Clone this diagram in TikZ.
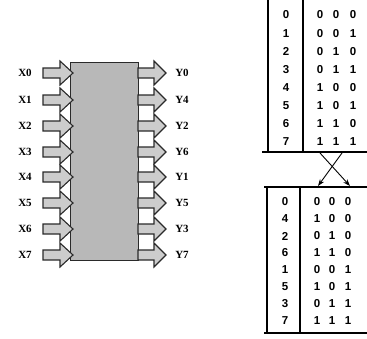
\documentclass[tikz,border=0pt]{standalone}
\usepackage{fontspec}
\setmainfont{Liberation Serif}
\newfontfamily\digfont{Liberation Sans}
\usetikzlibrary{arrows.meta}
\definecolor{chipgray}{HTML}{B8B8B8}
\definecolor{arrgray}{HTML}{CCCCCC}
\definecolor{edge}{HTML}{2A2A2A}
\tikzset{
  lbl/.style={font=\fontsize{11}{11}\selectfont\bfseries, inner sep=0pt},
  dig/.style={font=\digfont\fontsize{11.5}{11.5}\selectfont\bfseries, inner sep=0pt},
  blockarrow/.style={fill=arrgray, draw=edge, line width=1.1pt, line join=miter},
  rule/.style={draw=black, line width=1.3pt},
  crossarrow/.style={draw=black, line width=0.9pt, -{Stealth[length=7pt,width=5pt]}}
}
\begin{document}
\begin{tikzpicture}[x=1pt,y=-1pt]
\useasboundingbox (0,0) rectangle (367,338);
% chip
\node[draw=edge, line width=1.2pt, fill=chipgray, minimum width=68pt, minimum height=198pt, inner sep=0pt, anchor=north west] (chip) at (70,62) {};
% input arrows
\foreach \i/\y in {0/73,1/100,2/126,3/152,4/177,5/203,6/229,7/255}{
  \draw[blockarrow] (43,\y-5) -- (60,\y-5) -- (60,\y-12) -- (73,\y) -- (60,\y+12) -- (60,\y+5) -- (43,\y+5) -- cycle;
  \node[lbl] (x\i) at (25,\y) {X\i};
}
% output arrows
\foreach \j/\n/\y in {0/0/73,1/4/100,2/2/126,3/6/152,4/1/177,5/5/203,6/3/229,7/7/255}{
  \draw[blockarrow] (138,\y-5) -- (154,\y-5) -- (154,\y-12) -- (166,\y) -- (154,\y+12) -- (154,\y+5) -- (138,\y+5) -- cycle;
  \node[lbl] (y\j) at (182,\y) {Y\n};
}
% top table
\draw[rule] (268,-2) -- (268,152);
\draw[rule] (303,-2) -- (303,152);
\draw[rule] (262,152) -- (369,152);
\foreach \k/\a/\b/\c [count=\r from 0] in {0/0/0/0,1/0/0/1,2/0/1/0,3/0/1/1,4/1/0/0,5/1/0/1,6/1/1/0,7/1/1/1}{
  \pgfmathsetmacro{\yy}{15+18.1*\r}
  \node[dig] (ta\r) at (286,\yy) {\k};
  \node[dig] (tb\r) at (320,\yy) {\a};
  \node[dig] (tc\r) at (336,\yy) {\b};
  \node[dig] (td\r) at (353,\yy) {\c};
}
% bottom table
\draw[rule] (264,187) -- (369,187);
\draw[rule] (267,187) -- (267,333);
\draw[rule] (300,187) -- (300,333);
\draw[rule] (264,333) -- (369,333);
\foreach \k/\a/\b/\c [count=\r from 0] in {0/0/0/0,4/1/0/0,2/0/1/0,6/1/1/0,1/0/0/1,5/1/0/1,3/0/1/1,7/1/1/1}{
  \pgfmathsetmacro{\yy}{202+17*\r}
  \node[dig] (ba\r) at (285,\yy) {\k};
  \node[dig] (bb\r) at (317,\yy) {\a};
  \node[dig] (bc\r) at (332,\yy) {\b};
  \node[dig] (bd\r) at (348,\yy) {\c};
}
% crossing arrows
\coordinate (c1s) at (320,153);
\coordinate (c1e) at (350,186);
\coordinate (c2s) at (342,153);
\coordinate (c2e) at (318,186);
\draw[crossarrow] (c1s) -- (c1e);
\draw[crossarrow] (c2s) -- (c2e);
\end{tikzpicture}
\end{document}
